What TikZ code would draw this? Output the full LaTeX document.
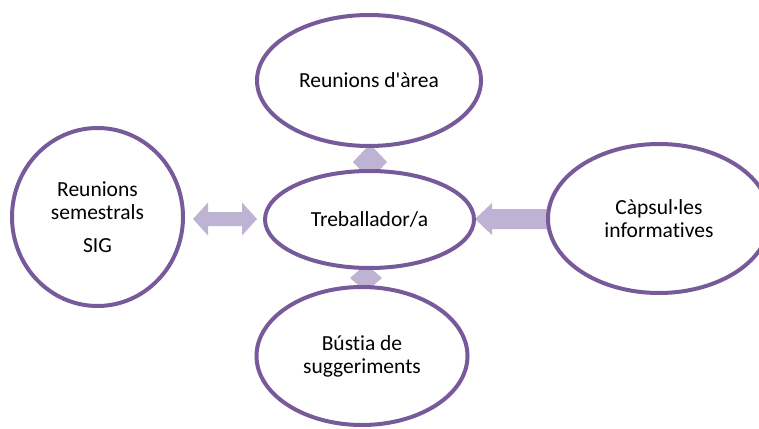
\documentclass[tikz,border=0pt]{standalone}
\usepackage{fontspec}
\setmainfont{Carlito}[Ligatures={TeXOff,NoCommon}]
\usetikzlibrary{shapes.geometric}
\definecolor{ring}{HTML}{775A9A}
\definecolor{lav}{HTML}{BFB3D3}
\tikzset{
  bubble/.style={ellipse, draw=ring, line width=4pt, fill=white, inner sep=0pt, align=center,
    font=\fontsize{21.5}{23}\selectfont, text=black},
  blockarrow/.style={fill=lav, draw=none}
}
\begin{document}
\begin{tikzpicture}[x=1pt,y=-1pt]
\useasboundingbox (0,0) rectangle (759,428);
% block arrows (under the bubbles)
\fill[blockarrow] (193,219) -- (208,202.5) -- (208,212) -- (242,212) -- (242,202.5) -- (257,219)
  -- (242,235.5) -- (242,226) -- (208,226) -- (208,235.5) -- cycle;
\fill[blockarrow] (475,219) -- (492,203) -- (492,209) -- (548,209) -- (548,229) -- (492,229) -- (492,235) -- cycle;
\fill[blockarrow] (370,144) -- (387,162) -- (370,180) -- (353,162) -- cycle;
\fill[blockarrow] (366,264) -- (382,278) -- (366,292) -- (350,278) -- cycle;
% bubbles
\node[bubble, minimum width=224pt, minimum height=131pt] (area) at (369,80.5) {Reunions d'àrea};
\node[bubble, minimum width=209pt, minimum height=97pt] (treb) at (369.5,219.5) {Treballador/a};
\node[bubble, minimum width=211pt, minimum height=138pt] (bustia) at (362,356) {Bústia de\\suggeriments};
\node[bubble, minimum width=171pt, minimum height=178pt] (sem) at (97.5,217) {Reunions\\semestrals\\[10pt]SIG};
\node[bubble, minimum width=222pt, minimum height=149pt] (caps) at (659,218.5) {Càpsul·les\\informatives};
\end{tikzpicture}
\end{document}
